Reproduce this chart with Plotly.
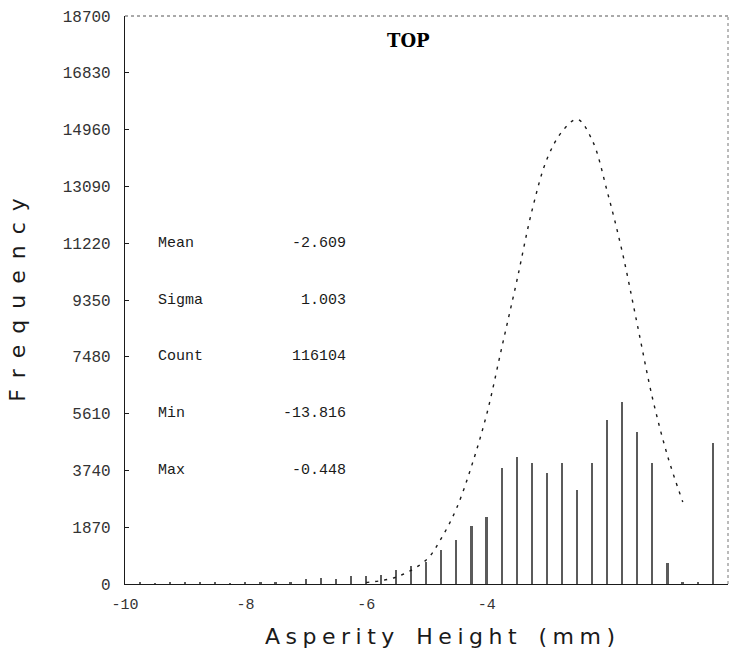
import plotly.graph_objects as go

# Histogram of asperity heights (bin centres every 0.25 mm) and counts per bin
bin_x = [-10.0, -9.75, -9.5, -9.25, -9.0, -8.75, -8.5, -8.25, -8.0, -7.75,
         -7.5, -7.25, -7.0, -6.75, -6.5, -6.25, -6.0, -5.75, -5.5, -5.25,
         -5.0, -4.75, -4.5, -4.25, -4.0, -3.75, -3.5, -3.25, -3.0, -2.75,
         -2.5, -2.25, -2.0, -1.75, -1.5, -1.25, -1.0, -0.75, -0.5, -0.25]
bin_count = [0, 40, 30, 50, 40, 60, 50, 30, 60, 50,
             60, 80, 150, 200, 180, 260, 280, 300, 460, 590,
             720, 1120, 1450, 1900, 2200, 3820, 4180, 4000, 3650, 4000,
             3100, 3980, 5400, 6000, 5000, 3980, 690, 60, 40, 4640]

# Fitted distribution curve
fit_x = [-6.0, -5.5, -5.0, -4.75, -4.5, -4.25, -4.0, -3.75, -3.5, -3.25,
         -3.0, -2.75, -2.5, -2.25, -2.0, -1.75, -1.5, -1.25, -1.0, -0.75]
fit_y = [50, 230, 800, 1520, 2500, 3900, 5600, 7800, 10000, 12300,
         14000, 14900, 15300, 14600, 12900, 10900, 8500, 6100, 4200, 2700]

# Summary statistics
stat_names = ["Mean", "Sigma", "Count", "Min", "Max"]
stat_values = ["-2.609", "1.003", "116104", "-13.816", "-0.448"]

y_ticks = [0, 1870, 3740, 5610, 7480, 9350, 11220, 13090, 14960, 16830, 18700]
y_tick_text = ["0", "1870", "3740", "5610", "7480", "9350", "11220",
               "13090", "14960", "16830", "18700"]
x_ticks = [-10, -8, -6, -4]
x_tick_text = ["-10", "-8", "-6", "-4"]

INK = "#1a1a1a"
MONO = "Liberation Mono, DejaVu Sans Mono, monospace"
SANS = "DejaVu Sans, sans-serif"
SP = "\u2005"   # narrow gap between letters of the axis titles
WSP = "\u2003"  # gap between words


def spaced(text, gap):
    return WSP.join(gap.join(word) for word in text.split(" "))


fig = go.Figure()
fig.add_trace(go.Bar(
    x=bin_x, y=bin_count, width=0.028,
    marker=dict(color="#333333", line=dict(width=0)),
    opacity=0.8, showlegend=False,
))
fig.add_trace(go.Scatter(
    x=fit_x, y=fit_y, mode="lines",
    line=dict(color=INK, width=1.4, dash="3px,6px", shape="spline"),
    showlegend=False,
))

# Statistics block
stat_y = [11220, 9350, 7480, 5610, 3740]
for name, val, yv in zip(stat_names, stat_values, stat_y):
    fig.add_annotation(x=-9.48, y=yv, text=name, showarrow=False,
                       xanchor="left", yanchor="middle",
                       font=dict(family=MONO, size=15, color=INK))
    fig.add_annotation(x=-6.3, y=yv, text=val, showarrow=False,
                       xanchor="right", yanchor="middle",
                       font=dict(family=MONO, size=15, color=INK))

fig.add_annotation(x=-5.3, y=17900, text="<b>TOP</b>", showarrow=False,
                   xanchor="center", yanchor="middle",
                   font=dict(family="DejaVu Serif, serif", size=18, color="#000"))

# Horizontal axis title, centred slightly right of the plot middle
fig.add_annotation(xref="paper", yref="paper", x=0.522, y=-0.092,
                   text=spaced("Asperity Height (mm)", SP), showarrow=False,
                   xanchor="center", yanchor="middle",
                   font=dict(family=SANS, size=22, color=INK))

# Faint upper and right frame edges
fig.add_shape(type="line", xref="paper", yref="paper", x0=0, x1=1, y0=1, y1=1,
              line=dict(color="#555", width=1, dash="dot"))
fig.add_shape(type="line", xref="paper", yref="paper", x0=1, x1=1, y0=0, y1=1,
              line=dict(color="#777", width=1, dash="dot"))

fig.update_layout(
    width=730, height=667,
    margin=dict(l=125, r=2, t=16, b=83),
    paper_bgcolor="white", plot_bgcolor="white",
    bargap=0,
    xaxis=dict(
        range=[-10, 0], tickvals=x_ticks, ticktext=x_tick_text,
        showgrid=False, zeroline=False, showline=True,
        linecolor=INK, linewidth=1.2, ticks="",
        ticklabelstandoff=6,
        tickfont=dict(family=MONO, size=15, color="#333"),
    ),
    yaxis=dict(
        range=[0, 18700], tickvals=y_ticks, ticktext=y_tick_text,
        showgrid=False, zeroline=False, showline=True,
        linecolor=INK, linewidth=1.2, ticks="inside", ticklen=4,
        tickcolor=INK, ticklabelstandoff=10,
        tickfont=dict(family=MONO, size=16, color="#333"),
        title=dict(text=spaced("Frequency", "\u2002"),
                   font=dict(family=SANS, size=22, color=INK),
                   standoff=30),
    ),
)

fig.write_html("out.html")
